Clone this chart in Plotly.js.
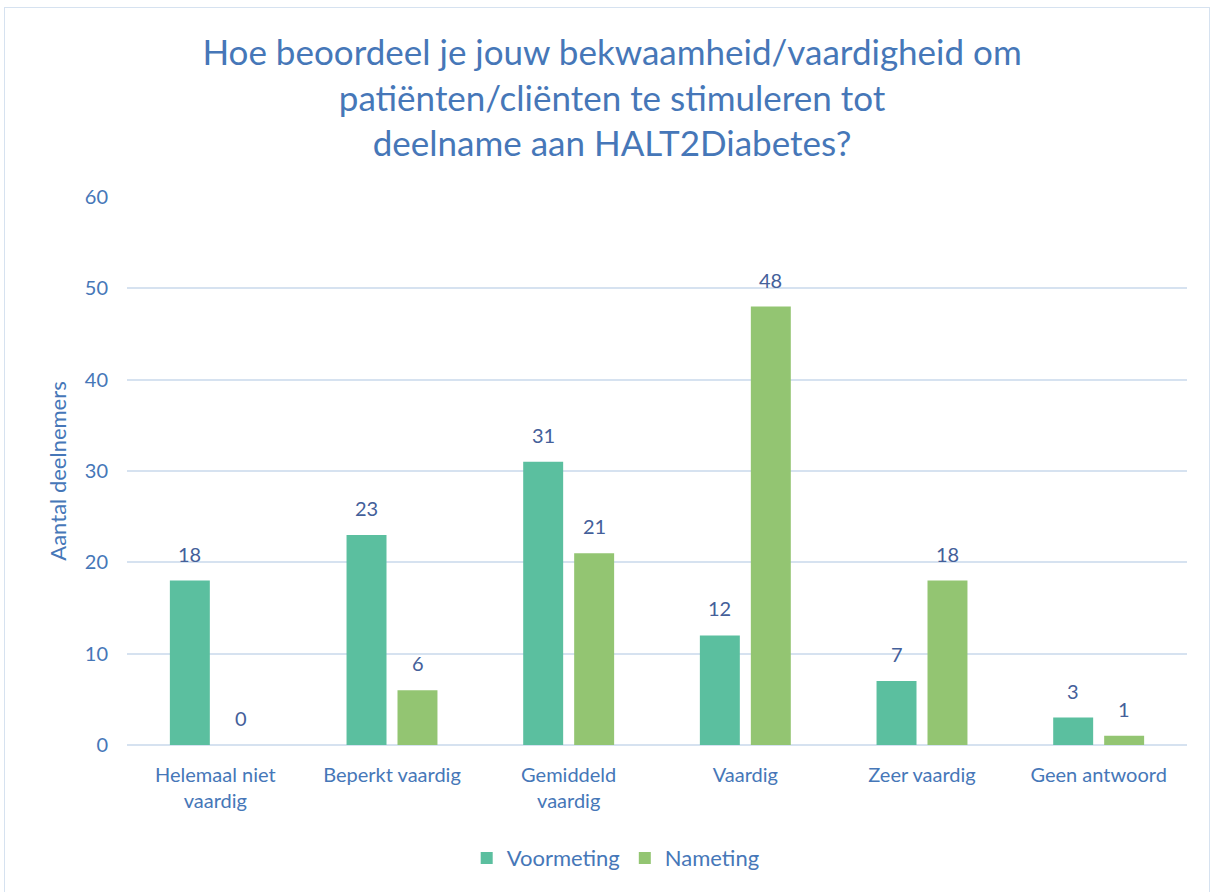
<!DOCTYPE html>
<html>
<head>
<meta charset="utf-8">
<script src="https://cdn.plot.ly/plotly-3.0.1.min.js"></script>
<style>
html,body{margin:0;padding:0;background:#fff;}
#wrap{position:relative;width:1212px;height:892px;}
#chart{width:1212px;height:892px;}
#frame{position:absolute;left:4px;top:7px;width:1204px;height:900px;border:1.5px solid #D6E2F0;pointer-events:none;}
</style>
</head>
<body>
<div id="wrap"><div id="chart"></div><div id="frame"></div></div>
<script>
const categories = ["Helemaal niet<br>vaardig", "Beperkt vaardig", "Gemiddeld<br>vaardig", "Vaardig", "Zeer vaardig", "Geen antwoord"];
const voormeting = [18, 23, 31, 12, 7, 3];
const nameting = [0, 6, 21, 48, 18, 1];
const seriesNames = ["Voormeting", "Nameting"];

const FONT = 'Lato, "Noto Sans", sans-serif';
const TXT = '#4677B8';
const LBL = '#44609A';

const traces = [
  {type:'bar', name:seriesNames[0], x:categories, y:voormeting, marker:{color:'#5BBF9F'}},
  {type:'bar', name:seriesNames[1], x:categories, y:nameting, marker:{color:'#93C572'}}
];

// value labels placed above each bar, from the data arrays
const annotations = [];
[[voormeting, -25.5], [nameting, 25.5]].forEach(([vals, dx]) => {
  vals.forEach((v, i) => annotations.push({
    x: categories[i], y: v, xref:'x', yref:'y', text: String(v), showarrow:false,
    xshift: dx, yshift: 13, yanchor:'bottom', font:{family:FONT, size:20, color:LBL}
  }));
});

const layout = {
  width:1212, height:892,
  margin:{l:127, r:25, t:197, b:147},
  paper_bgcolor:'rgba(0,0,0,0)', plot_bgcolor:'#fff',
  font:{family:FONT, color:TXT, size:19},
  title:{text:"Hoe beoordeel je jouw bekwaamheid/vaardigheid om<br>patiënten/cliënten te stimuleren tot<br>deelname aan HALT2Diabetes?",
    font:{family:FONT, size:35, color:TXT}, x:0.505, xanchor:'center', y:0.927, yanchor:'top', yref:'container'},
  barmode:'group', bargap:0.423, bargroupgap:0.216,
  xaxis:{tickfont:{family:FONT, size:20, color:TXT}, showgrid:false, zeroline:false, showline:false,
    ticks:'outside', ticklen:12, tickcolor:'rgba(0,0,0,0)', automargin:false},
  yaxis:{range:[0,60], dtick:10, tickfont:{family:FONT, size:20, color:TXT},
    gridcolor:'#D6E2F0', gridwidth:1.5, zeroline:true, zerolinecolor:'#D6E2F0', zerolinewidth:1.5,
    ticks:'outside', ticklen:14, tickcolor:'rgba(0,0,0,0)', automargin:false,
    title:{text:'Aantal deelnemers', font:{family:FONT, size:22, color:TXT}, standoff:12}},
  annotations: annotations,
  showlegend:true,
  legend:{orientation:'h', x:0.508, xanchor:'center', xref:'container', y:0.038, yanchor:'middle', yref:'container',
    font:{family:FONT, size:22, color:TXT}, itemwidth:30, traceorder:'normal'}
};

Plotly.newPlot('chart', traces, layout, {displayModeBar:false, responsive:false});
</script>
</body>
</html>
